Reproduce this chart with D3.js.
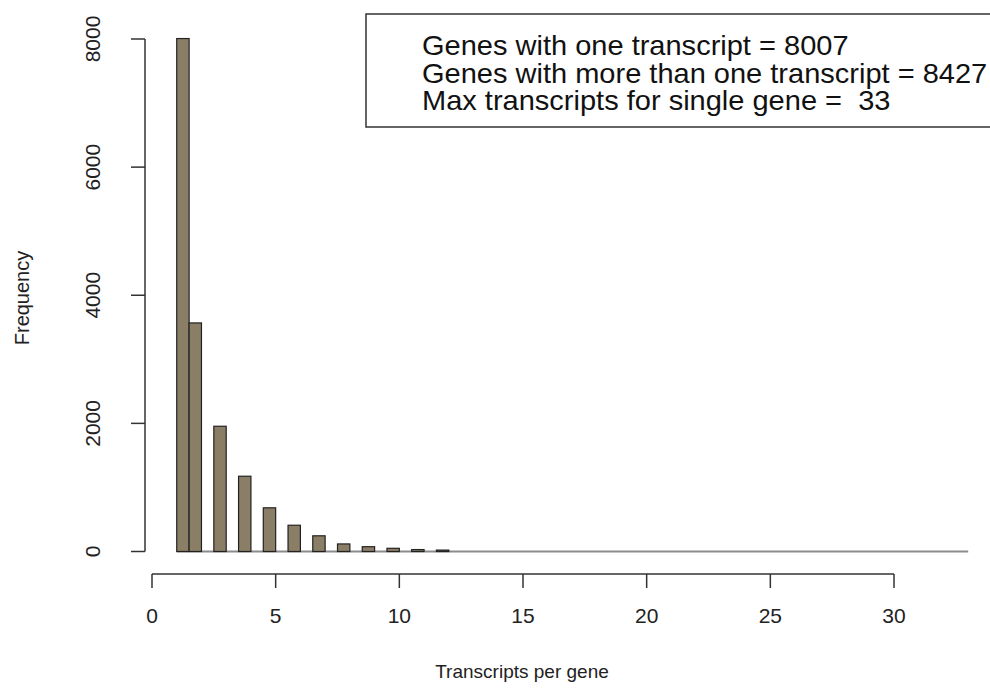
<!DOCTYPE html>
<html>
<head>
<meta charset="utf-8">
<script src="https://cdn.jsdelivr.net/npm/d3@7"></script>
<style>
  body { margin: 0; background: #fff; }
  svg { font-family: "Liberation Sans", Arial, sans-serif; }
</style>
</head>
<body>
<div id="chart"></div>
<script>
// transcripts per gene (histogram bins of width 0.5, only integer values filled)
var transcripts = [1, 2, 3, 4, 5, 6, 7, 8, 9, 10, 11, 12, 13, 14, 15, 16, 17,
                   18, 19, 20, 21, 22, 23, 24, 25, 26, 27, 28, 29, 30, 31, 32, 33];
var genes = [8007, 3568, 1955, 1175, 682, 410, 245, 118, 75, 50, 30, 22, 5,
             4, 3, 3, 2, 2, 2, 1, 1, 1, 1, 1, 1, 1, 0, 1, 0, 0, 1, 0, 1];
var xTicks = [0, 5, 10, 15, 20, 25, 30];
var yTicks = [0, 2000, 4000, 6000, 8000];
var legendLines = [
    "Genes with one transcript = 8007",
    "Genes with more than one transcript = 8427",
    "Max transcripts for single gene =  33"
];

var width = 990, height = 690;
var svg = d3.select("#chart").append("svg")
    .attr("width", width)
    .attr("height", height);

var x = d3.scaleLinear().domain([0, 30]).range([152, 894]);
var y = d3.scaleLinear().domain([0, 8000]).range([551.5, 39]);

// near-empty bins show up as a flat line along zero
svg.append("line")
    .attr("x1", x(1)).attr("x2", x(33))
    .attr("y1", y(0)).attr("y2", y(0))
    .attr("stroke", "#8c8c8c")
    .attr("stroke-width", 2);

var bins = transcripts.map(function(t, i) {
    // first bin is [1,1.5], the others are (t-0.5, t]
    var x0 = t == 1 ? 1 : t - 0.5;
    return {x0: x0, x1: x0 + 0.5, n: genes[i]};
});

svg.selectAll(".bar")
    .data(bins.filter(function(d) { return y(0) - y(d.n) >= 1; }))
    .enter().append("rect")
    .attr("class", "bar")
    .attr("x", function(d) { return x(d.x0); })
    .attr("width", function(d) { return x(d.x1) - x(d.x0); })
    .attr("y", function(d) { return y(d.n); })
    .attr("height", function(d) { return y(0) - y(d.n); })
    .attr("fill", "#8b7e66")
    .attr("stroke", "#222")
    .attr("stroke-width", 1.2);

// x axis
var xAxis = svg.append("g").attr("transform", "translate(0,574)");
xAxis.append("line")
    .attr("x1", x(0)).attr("x2", x(30))
    .attr("stroke", "#333").attr("stroke-width", 1.5);
xAxis.selectAll(".tick")
    .data(xTicks)
    .enter().append("line")
    .attr("x1", function(d) { return x(d); })
    .attr("x2", function(d) { return x(d); })
    .attr("y1", 0).attr("y2", 14)
    .attr("stroke", "#333").attr("stroke-width", 1.5);
xAxis.selectAll(".lbl")
    .data(xTicks)
    .enter().append("text")
    .attr("x", function(d) { return x(d); })
    .attr("y", 49)
    .attr("text-anchor", "middle")
    .attr("font-size", 21)
    .attr("fill", "#222")
    .text(function(d) { return d; });

// y axis
var yAxis = svg.append("g").attr("transform", "translate(145,0)");
yAxis.append("line")
    .attr("y1", y(0)).attr("y2", y(8000))
    .attr("stroke", "#333").attr("stroke-width", 1.5);
yAxis.selectAll(".tick")
    .data(yTicks)
    .enter().append("line")
    .attr("y1", function(d) { return y(d); })
    .attr("y2", function(d) { return y(d); })
    .attr("x1", 0).attr("x2", -14)
    .attr("stroke", "#333").attr("stroke-width", 1.5);
yAxis.selectAll(".lbl")
    .data(yTicks)
    .enter().append("text")
    .attr("transform", function(d) { return "translate(-45," + y(d) + ") rotate(-90)"; })
    .attr("text-anchor", "middle")
    .attr("font-size", 21)
    .attr("fill", "#222")
    .text(function(d) { return d; });

// axis titles
svg.append("text")
    .attr("x", 522).attr("y", 678)
    .attr("text-anchor", "middle")
    .attr("font-size", 19)
    .attr("fill", "#222")
    .text("Transcripts per gene");
svg.append("text")
    .attr("transform", "translate(29,298) rotate(-90)")
    .attr("text-anchor", "middle")
    .attr("font-size", 20)
    .attr("fill", "#222")
    .text("Frequency");

// legend box (runs off the right edge)
svg.append("rect")
    .attr("x", 366).attr("y", 14)
    .attr("width", 640).attr("height", 113)
    .attr("fill", "none")
    .attr("stroke", "#333").attr("stroke-width", 1.5);
svg.selectAll(".legend")
    .data(legendLines)
    .enter().append("text")
    .attr("class", "legend")
    .attr("transform", function(d, i) { return "translate(422," + (55 + i * 27.5) + ") scale(1.075,1)"; })
    .attr("font-size", 27)
    .attr("fill", "#111")
    .style("white-space", "pre")
    .text(function(d) { return d; });
</script>
</body>
</html>
